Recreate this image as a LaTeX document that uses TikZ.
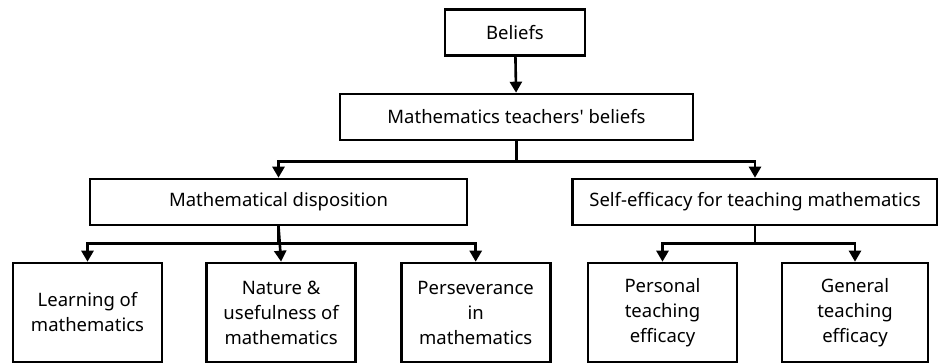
\documentclass[tikz,border=0pt]{standalone}
\usepackage{fontspec}
\setmainfont{Noto Sans}
\usetikzlibrary{arrows.meta,positioning}

\begin{document}
\begin{tikzpicture}[x=1pt,y=1pt,
	box/.style={rectangle,draw,line width=2.6pt,inner sep=0pt,minimum height=46pt,
		font=\fontsize{18.5}{25}\selectfont},
	leaf/.style={box,minimum width=149pt,minimum height=99pt,align=center},
	paths/.style={-{Triangle[length=11pt,width=12pt]}, line width=2.6pt}
	]
\useasboundingbox (0,0) rectangle (938,-363);

\node [box,minimum width=140pt] (beliefs) at (515,-32.5) {Beliefs};
\node [box,minimum width=353pt] (mtb) at (516.5,-117) {Mathematics teachers\textquotesingle\ beliefs};

\node [box,minimum width=377pt] (disp) at (278.5,-202) {Mathematical disposition};
\node [box,minimum width=365pt] (self) at (755,-202) {Self-efficacy for teaching mathematics};

\node [leaf] (learn) at (87.5,-312.5) {Learning of\\mathematics};
\node [leaf] (nature) [right = 42pt of learn] {Nature \&\\usefulness of\\mathematics};
\node [leaf] (persev) [right = 43pt of nature] {Perseverance\\in\\mathematics};

\node [leaf] (personal) at (662.5,-312.5) {Personal\\teaching\\efficacy};
\node [leaf,minimum width=146pt] (general) at (855,-312.5) {General\\teaching\\efficacy};

\draw [paths] (beliefs) -- (mtb);

\draw [paths] (mtb.south) -- ++(0,-20) -| (disp.north);
\draw [paths] (mtb.south) -- ++(0,-20) -| (self.north);

\draw [paths] (disp.south) -- ++(0,-17) -| (learn.north);
\draw [paths] (disp.south) -- (nature.north);
\draw [paths] (disp.south) -- ++(0,-17) -| (persev.north);

\draw [paths] (self.south) -- ++(0,-17) -| (personal.north);
\draw [paths] (self.south) -- ++(0,-17) -| (general.north);
\end{tikzpicture}
\end{document}
